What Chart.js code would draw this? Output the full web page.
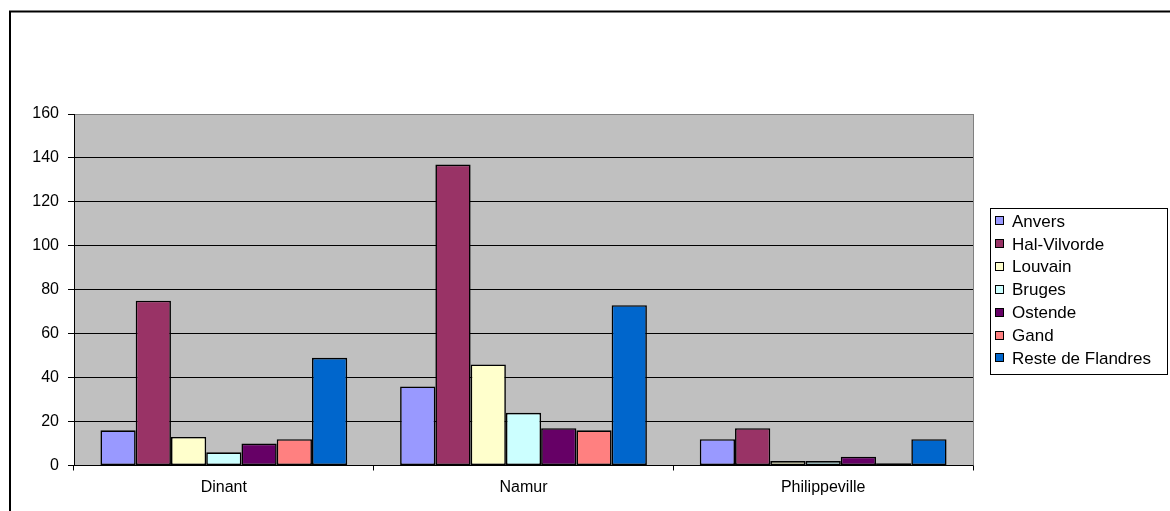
<!DOCTYPE html>
<html>
<head>
<meta charset="utf-8">
<script src="https://cdn.jsdelivr.net/npm/chart.js@4.4.1/dist/chart.umd.min.js"></script>
<style>
  html, body { margin: 0; padding: 0; background: #ffffff; }
  #wrap { width: 1170px; height: 511px; position: relative; }
</style>
</head>
<body>
<div id="wrap"><canvas id="chart" width="1170" height="511"></canvas></div>
<script>
// Arrondissements (categories) and regions of origin (series)
const categories = ['Dinant', 'Namur', 'Philippeville'];
const seriesNames = ['Anvers', 'Hal-Vilvorde', 'Louvain', 'Bruges', 'Ostende', 'Gand', 'Reste de Flandres'];

const anvers        = [16, 36, 12];
const halVilvorde   = [75, 137, 17];
const louvain       = [13, 46, 2];
const bruges        = [6, 24, 2];
const ostende       = [10, 17, 4];
const gand          = [12, 16, 1];
const resteFlandres = [49, 73, 12];

const seriesColors = ['#9999FF', '#993366', '#FFFFCC', '#CCFFFF', '#660066', '#FF8080', '#0066CC'];

const yMin = 0;
const yMax = 160;
const yStep = 20;

const FONT = "'Liberation Sans', Arial, Helvetica, sans-serif";

const seriesValues = [anvers, halVilvorde, louvain, bruges, ostende, gand, resteFlandres];

const datasets = seriesNames.map((name, i) => ({
  label: name,
  data: seriesValues[i],
  backgroundColor: seriesColors[i],
  borderColor: '#000000',
  borderWidth: 1.6,
  borderSkipped: false,
  categoryPercentage: 7 / 8.5,
  barPercentage: 1.0
}));

// Grey plot background, outer frame and grey plot edges
const framePlugin = {
  id: 'frame',
  beforeDraw(chart) {
    const { ctx, chartArea: a } = chart;
    ctx.save();
    ctx.fillStyle = '#ffffff';
    ctx.fillRect(0, 0, chart.width, chart.height);
    ctx.fillStyle = '#C0C0C0';
    ctx.fillRect(a.left, a.top, a.right - a.left, a.bottom - a.top);
    ctx.restore();
  },
  afterDraw(chart) {
    const { ctx, chartArea: a } = chart;
    ctx.save();
    // right edge of the plot
    ctx.strokeStyle = '#808080';
    ctx.lineWidth = 1;
    ctx.beginPath();
    ctx.moveTo(Math.round(a.right) + 0.5, a.top);
    ctx.lineTo(Math.round(a.right) + 0.5, a.bottom);
    ctx.stroke();
    // outer chart frame
    ctx.strokeStyle = '#000000';
    ctx.lineWidth = 2;
    ctx.strokeRect(10, 11.5, 1400, 800);
    ctx.restore();
  }
};

// Boxed legend on the right
const boxLegendPlugin = {
  id: 'boxLegend',
  afterDraw(chart) {
    const { ctx } = chart;
    const x0 = 990.5, y0 = 208.5, w = 177, h = 166;
    ctx.save();
    ctx.fillStyle = '#ffffff';
    ctx.fillRect(x0, y0, w, h);
    ctx.strokeStyle = '#000000';
    ctx.lineWidth = 1;
    ctx.strokeRect(x0, y0, w, h);
    ctx.font = '17px ' + FONT;
    ctx.textBaseline = 'middle';
    ctx.textAlign = 'left';
    chart.data.datasets.forEach((ds, i) => {
      const cy = 221 + i * 22.9;
      ctx.fillStyle = ds.backgroundColor;
      ctx.fillRect(995.5, Math.round(cy) - 4.5, 8, 8);
      ctx.strokeStyle = '#000000';
      ctx.strokeRect(995.5, Math.round(cy) - 4.5, 8, 8);
      ctx.fillStyle = '#000000';
      ctx.fillText(ds.label, 1012, cy + 1);
    });
    ctx.restore();
  }
};

new Chart(document.getElementById('chart'), {
  type: 'bar',
  data: { labels: categories, datasets },
  plugins: [framePlugin, boxLegendPlugin],
  options: {
    responsive: false,
    animation: false,
    devicePixelRatio: 1,
    layout: { padding: { left: 0, top: 114, right: 197, bottom: 0 } },
    plugins: {
      legend: { display: false },
      tooltip: { enabled: false },
      title: { display: false }
    },
    scales: {
      x: {
        afterFit(scale) { scale.height = 45.5; },
        grid: {
          offset: true,
          drawOnChartArea: false,
          drawTicks: true,
          tickLength: 5,
          tickColor: '#000000'
        },
        border: { display: true, color: '#000000', width: 1 },
        ticks: {
          color: '#000000',
          padding: 7,
          maxRotation: 0,
          font: { family: FONT, size: 16 }
        }
      },
      y: {
        min: yMin,
        max: yMax,
        afterFit(scale) { scale.width = 74; },
        grid: {
          color: (c) => (c.tick && c.tick.value === yMax ? '#808080' : '#000000'),
          lineWidth: 1,
          drawTicks: true,
          tickLength: 6,
          tickColor: '#000000'
        },
        border: { display: true, color: '#000000', width: 1 },
        ticks: {
          stepSize: yStep,
          color: '#000000',
          padding: 9,
          font: { family: FONT, size: 16 }
        }
      }
    }
  }
});
</script>
</body>
</html>
